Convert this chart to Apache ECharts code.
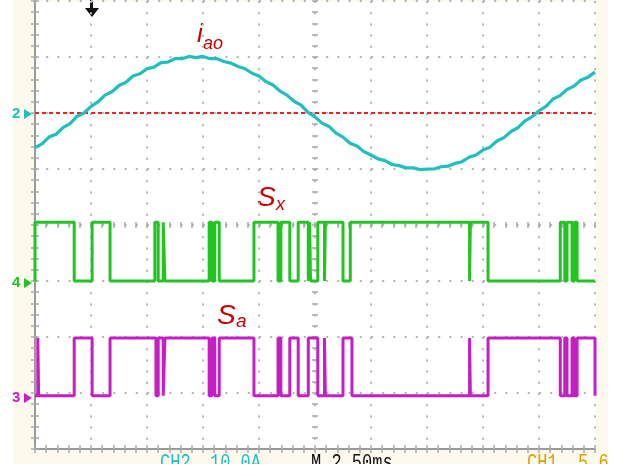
<!DOCTYPE html>
<html>
<head>
<meta charset="utf-8">
<script src="https://cdn.jsdelivr.net/npm/echarts@6/dist/echarts.min.js"></script>
<style>
html,body{margin:0;padding:0;background:#ffffff;}
#bg{position:absolute;left:13px;top:0;width:595px;height:464px;background:#fdf9ec;}
#chart{position:absolute;left:0;top:0;width:625px;height:470px;}
</style>
</head>
<body>
<div id="bg"></div>
<div id="chart"></div>
<script>
// time in screen divisions (2.50 ms/div), amplitude in vertical divisions
const iaoTime = [0,0.125,0.25,0.375,0.5,0.625,0.75,0.875,1,1.125,1.25,1.375,1.5,1.625,1.75,1.875,2,2.125,2.25,2.375,2.5,2.625,2.75,2.875,3,3.125,3.25,3.375,3.5,3.625,3.75,3.875,4,4.125,4.25,4.375,4.5,4.625,4.75,4.875,5,5.125,5.25,5.375,5.5,5.625,5.75,5.875,6,6.125,6.25,6.375,6.5,6.625,6.75,6.875,7,7.125,7.25,7.375,7.5,7.625,7.75,7.875,8,8.125,8.25,8.375,8.5,8.625,8.75,8.875,9,9.125,9.25,9.375,9.5,9.625,9.75,9.875,10];
const iaoValues = [5.38,5.45,5.57,5.62,5.74,5.81,5.94,6.00,6.12,6.20,6.32,6.38,6.49,6.55,6.66,6.70,6.79,6.82,6.90,6.91,6.97,6.97,7.01,6.99,7.01,6.97,6.97,6.92,6.89,6.83,6.79,6.71,6.66,6.56,6.50,6.39,6.32,6.21,6.14,6.01,5.93,5.82,5.76,5.64,5.57,5.46,5.41,5.31,5.25,5.18,5.15,5.08,5.06,5.02,5.02,4.99,5.00,5.00,5.04,5.05,5.10,5.13,5.21,5.25,5.34,5.39,5.50,5.56,5.67,5.74,5.86,5.93,6.04,6.12,6.25,6.31,6.42,6.48,6.59,6.64,6.73];
const iaoZero = 6;

const sxLevels = [3.0, 4.05];
const sxHigh = [[0,0.70],[1.02,1.34],[2.14,2.20],[2.29,2.32],[3.11,3.16],[3.21,3.29],[3.91,4.34],[4.39,4.55],[4.70,4.88],[4.905,4.92],[5.05,5.17],[5.185,5.50],[5.63,7.76],[7.775,8.09],[9.38,9.46],[9.50,9.59],[9.63,9.68]];
const saLevels = [0.95, 1.98];
const saHigh = [[0.05,0.065],[0.70,1.02],[1.34,2.16],[2.20,2.29],[2.32,3.11],[3.16,3.21],[3.29,3.91],[4.34,4.39],[4.55,4.70],[4.88,5.05],[5.17,5.185],[5.50,5.66],[7.76,7.775],[8.09,9.38],[9.46,9.50],[9.59,9.63],[9.68,10]];

const statusTexts = ['CH2', '10.0A', 'M 2.50ms', 'CH1', '5.6'];

function steps(intervals, lv){
  const lo = lv[0], hi = lv[1];
  const pts = [[0, lo]];
  intervals.forEach(function(iv){
    pts.push([iv[0], lo], [iv[0], hi], [iv[1], hi], [iv[1], lo]);
  });
  pts.push([10, lo]);
  return pts;
}

const gridGray = '#aaaaaa';
function xAx(pos, offset, len, extra){
  return Object.assign({
    type:'value', min:0, max:10, interval:1, position:pos, offset:offset,
    axisLine:{show:false},
    axisLabel:{show:false},
    axisTick:{show:true, inside:true, length:len, lineStyle:{color:gridGray, width:1.5}},
    minorTick:{show:true, splitNumber:5, length:len, lineStyle:{color:gridGray, width:1.5}},
    splitLine:{show:false}
  }, extra||{});
}
function yAx(pos, offset, len, extra){
  return Object.assign({
    type:'value', min:0, max:8, interval:1, position:pos, offset:offset,
    axisLine:{show:false},
    axisLabel:{show:false},
    axisTick:{show:true, inside:true, length:len, lineStyle:{color:gridGray, width:1.5}},
    minorTick:{show:true, splitNumber:5, length:len, lineStyle:{color:gridGray, width:1.5}},
    splitLine:{show:false}
  }, extra||{});
}

function status(x, txt, color){
  return {type:'text', x:x, y:452, scaleY:1.3, z:50,
    style:{text:txt, font:'17px "Liberation Mono"', fill:color, verticalAlign:'top'}};
}

const chart = echarts.init(document.getElementById('chart'), null, {renderer:'canvas'});
const red = '#c80000';
const option = {
  animation:false,
  grid:{left:35, right:30, top:1, bottom:21, show:true, backgroundColor:'#ffffff', borderWidth:0},
  xAxis:[
    xAx('bottom', 0, 4, {axisLine:{show:true, lineStyle:{color:'#999999', width:2}},
      splitLine:{show:true, lineStyle:{color:'#b4b4b4', width:2, type:[2,9.2]}}}),
    xAx('top', 0, 4),
    xAx('bottom', -224, 3),
    xAx('top', -224, 3)
  ],
  yAxis:[
    yAx('left', 0, 4, {axisLine:{show:true, lineStyle:{color:'#999999', width:2}},
      splitLine:{show:true, lineStyle:{color:'#b4b4b4', width:2, type:[2,9.2]}}}),
    yAx('right', 0, 4, {axisLine:{show:true, lineStyle:{color:'#999999', width:2}}}),
    yAx('left', -280, 3),
    yAx('right', -280, 3)
  ],
  series:[
    {type:'line', xAxisIndex:0, yAxisIndex:0, symbol:'none', silent:true,
      data: iaoTime.map(function(t,i){return [t, iaoValues[i]];}),
      lineStyle:{color:'#1fbfbf', width:3.2}, z:5,
      markLine:{silent:true, symbol:['none','none'], label:{show:false},
        lineStyle:{color:'#ff1a1a', type:[4,3], width:2},
        data:[{yAxis:iaoZero}]}},
    {type:'line', xAxisIndex:0, yAxisIndex:0, symbol:'none', silent:true,
      data: steps(sxHigh, sxLevels), lineStyle:{color:'#22c422', width:3, join:'bevel'}, z:4},
    {type:'line', xAxisIndex:0, yAxisIndex:0, symbol:'none', silent:true,
      data: steps(saHigh, saLevels), lineStyle:{color:'#c41ec4', width:3, join:'bevel'}, z:4}
  ],
  graphic:[
    {type:'text', x:197, y:35, style:{text:'i', font:'italic 26px "Liberation Sans"', fill:red, verticalAlign:'middle'}},
    {type:'text', x:203, y:44, style:{text:'ao', font:'italic 18px "Liberation Sans"', fill:red, verticalAlign:'middle'}},
    {type:'text', x:257, y:198, style:{text:'S', font:'italic 28px "Liberation Sans"', fill:red, verticalAlign:'middle'}},
    {type:'text', x:276, y:205, style:{text:'x', font:'italic 18px "Liberation Sans"', fill:red, verticalAlign:'middle'}},
    {type:'text', x:217, y:316, style:{text:'S', font:'italic 28px "Liberation Sans"', fill:red, verticalAlign:'middle'}},
    {type:'text', x:236, y:322, style:{text:'a', font:'italic 19px "Liberation Sans"', fill:red, verticalAlign:'middle'}},
    {type:'text', x:12, y:114, style:{text:'2', font:'bold 15px "Liberation Sans"', fill:'#1fbfbf', verticalAlign:'middle'}},
    {type:'polygon', shape:{points:[[24,109],[24,119],[32,114]]}, style:{fill:'#1fbfbf'}},
    {type:'text', x:12, y:283, style:{text:'4', font:'bold 15px "Liberation Sans"', fill:'#22c422', verticalAlign:'middle'}},
    {type:'polygon', shape:{points:[[24,278],[24,288],[32,283]]}, style:{fill:'#22c422'}},
    {type:'text', x:12, y:398, style:{text:'3', font:'bold 15px "Liberation Sans"', fill:'#c41ec4', verticalAlign:'middle'}},
    {type:'polygon', shape:{points:[[24,393],[24,403],[32,398]]}, style:{fill:'#c41ec4'}},
    {type:'rect', shape:{x:90, y:0, width:3, height:9}, style:{fill:'#111'}},
    {type:'polygon', shape:{points:[[85,8],[99,8],[92,17]]}, style:{fill:'#111'}},
    status(160, statusTexts[0], '#20c0c8'),
    status(210, statusTexts[1], '#20c0c8'),
    status(311, statusTexts[2], '#111111'),
    status(527, statusTexts[3], '#e0a000'),
    status(578, statusTexts[4], '#e0a000'),
    {type:'rect', z:100, shape:{x:0, y:464, width:625, height:6}, style:{fill:'#ffffff'}},
    {type:'rect', z:100, shape:{x:608, y:440, width:17, height:30}, style:{fill:'#ffffff'}}
  ]
};
chart.setOption(option);
</script>
</body>
</html>
